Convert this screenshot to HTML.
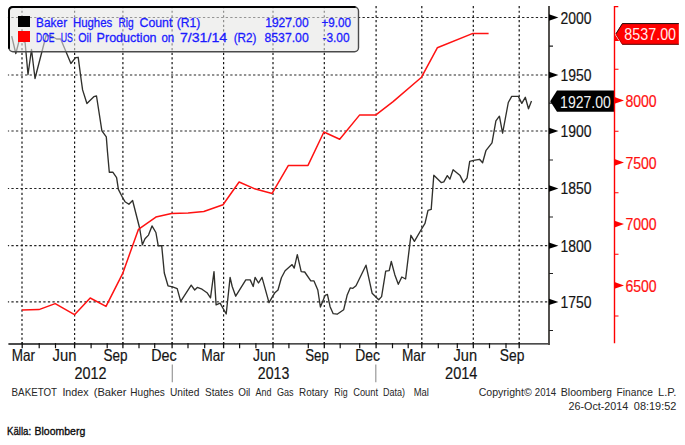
<!DOCTYPE html>
<html>
<head>
<meta charset="utf-8">
<title>Baker Hughes Rig Count vs DOE US Oil Production</title>
<style>
html,body{margin:0;padding:0;background:#fff;}
body{width:685px;height:445px;overflow:hidden;font-family:"Liberation Sans",sans-serif;}
svg{display:block;}
text{font-family:"Liberation Sans",sans-serif;}
.ax{font-size:17px;fill:#151515;stroke:#151515;stroke-width:0.2;}
.axr{font-size:16.5px;fill:#ff1010;stroke:#ff1010;stroke-width:0.2;}
.cap{font-size:11px;fill:#262626;}
.lg{font-size:13.5px;fill:#1a1aff;stroke:#1a1aff;stroke-width:0.3;}
.grid .h{stroke:#262626;stroke-width:1.2;stroke-dasharray:2.3 2.26;}
.grid .v{stroke:#161616;stroke-width:1.2;stroke-dasharray:2.2 2.47;}
</style>
</head>
<body>
<svg width="685" height="445" viewBox="0 0 685 445">
<rect width="685" height="445" fill="#fff"/>

<!-- grid -->
<g class="grid">
<line class="h" x1="547.2" y1="17.5" x2="7.9" y2="17.5"/>
<line class="h" x1="547.2" y1="75.0" x2="7.9" y2="75.0"/>
<line class="h" x1="547.2" y1="131.0" x2="7.9" y2="131.0"/>
<line class="h" x1="547.2" y1="188.5" x2="7.9" y2="188.5"/>
<line class="h" x1="547.2" y1="245.65" x2="7.9" y2="245.65"/>
<line class="h" x1="547.2" y1="301.9" x2="7.9" y2="301.9"/>
<line class="v" x1="22.0" y1="6" x2="22.0" y2="344"/>
<line class="v" x1="74.6" y1="6" x2="74.6" y2="344"/>
<line class="v" x1="122.9" y1="6" x2="122.9" y2="344"/>
<line class="v" x1="172.1" y1="6" x2="172.1" y2="344"/>
<line class="v" x1="223.6" y1="6" x2="223.6" y2="344"/>
<line class="v" x1="273" y1="6" x2="273" y2="344"/>
<line class="v" x1="324.3" y1="6" x2="324.3" y2="344"/>
<line class="v" x1="376.1" y1="6" x2="376.1" y2="344"/>
<line class="v" x1="421.8" y1="6" x2="421.8" y2="344"/>
<line class="v" x1="473.3" y1="6" x2="473.3" y2="344"/>
<line class="v" x1="519.2" y1="6" x2="519.2" y2="344"/>
</g>

<!-- black series -->
<polyline id="blk" fill="none" stroke="#30302c" stroke-width="1.35" stroke-linejoin="round" points="
11.7,36.1 15.8,53.5 19.3,40.2 22,41 25.1,42.5 28,74.5 31.5,49.5 35,78.5 46.1,35.5 51.4,36 56.6,39 60.7,39 70.9,63.5 75.6,57.6 78.2,57.3 81.2,80 82.6,89.9
86.9,103.5 93.8,96.7 96.5,96 101.9,130.8 106.3,136.9 107.5,152 109.3,172.2 112.8,172.2 116.6,177.7 118.4,189.4 122.4,197.3 125,201.7 128.9,204.3 132.6,200.5
139.6,228 142.4,244.8 145,238.7 148.5,235.1 152,225.9 155.9,232.5 158.2,245.7 161.7,245.7 164.3,273 168,285.8 172.6,286.9 177.2,288.6 180.7,301.4
191.2,285.1 194.7,290 197.3,287.4 202,289.2 207,292.7 210.5,297.9 214,271.6 216.1,304.9 220.1,303.2 226.2,314 230.1,277.4 232.2,286.5 235.7,296.2
245.8,279.9 250.2,279.9 253.2,286.5 255.1,277.4 258.5,283 262,277.4 269,302.6 274.9,292.7 278,290 281.4,277.8 285.1,270.8 292.1,264.6 294.2,268.1
297.3,254.7 301.2,271.7 304.7,272 310.8,280.9 314,280.9 317.8,290 320.4,307 325.2,295.3 327.4,294.4 330.1,306.7 333.2,313.7 337.1,314.2 343.7,309.7
347.1,295.3 350.2,287.9 352.9,288.3 356,285.7 366,265.2 372.1,293.2 378.7,299.7 381.6,296.6 385.7,271.2 389.2,270.6 391.3,261.5 394.8,274.7
398.3,284.3 401.8,277 405.6,279 410.9,235.3 414.4,241.4 421,230 425,223.4 428,210.3 431.2,209.4 433.8,175.3 441.2,182.6 443.8,181.9 447.3,175.6
449.9,179.1 453.1,169.7 460.1,175.6 463.6,182.6 467.1,177.9 469.7,161.3 473.6,160.4 479.5,159.3 482.6,162.8 485.9,150.7 492,142.8 495.9,120.9
499.4,116.2 502.6,133.2 508.3,102.5 511.7,96.4 518.3,96.4 521.8,103.4 525.3,97.3 528.5,108.7 531.5,101.1"/>

<!-- red series -->
<polyline id="red" fill="none" stroke="#ff1212" stroke-width="1.5" stroke-linejoin="round" points="
21.9,309.9 38.9,309.6 55.2,303.6 74.5,314.7 90.2,298 106,306.4 122.6,273.7 138.4,229.4 155.9,217.1 171.5,213.4 188.1,213 203.8,211.5 223,204.8
239.1,182 255.4,189.1 272.1,193.4 288.4,165.4 308,165.4 323.9,132 339.7,139.3 359.5,115.1 375.6,115.1 393.1,101.6 421.5,77.2 437.3,47.8 472.9,33.4 488.6,33.4"/>

<!-- legend -->
<g id="legend">
<rect x="9" y="7" width="349.5" height="44.7" rx="4" ry="4" fill="#e6e5e4" fill-opacity="0.58" stroke="#4a4a4a" stroke-width="1.4"/>
<path d="M9,48.8 V11 Q9,7 13,7 H355.5" fill="none" stroke="#000" stroke-width="2"/>
<rect x="18" y="16" width="12" height="11" fill="#000"/>
<rect x="18" y="31" width="12" height="11" fill="#ff0000"/>
<text class="lg" x="36.1" y="27" textLength="31.0" lengthAdjust="spacingAndGlyphs">Baker</text>
<text class="lg" x="72.9" y="27" textLength="39.4" lengthAdjust="spacingAndGlyphs">Hughes</text>
<text class="lg" x="118.5" y="27" textLength="15.2" lengthAdjust="spacingAndGlyphs">Rig</text>
<text class="lg" x="139.5" y="27" textLength="32.9" lengthAdjust="spacingAndGlyphs">Count</text>
<text class="lg" x="176.8" y="27" textLength="23.6" lengthAdjust="spacingAndGlyphs">(R1)</text>
<text class="lg" x="265.2" y="27" textLength="43.5" lengthAdjust="spacingAndGlyphs">1927.00</text>
<text class="lg" x="321.4" y="27" textLength="29.6" lengthAdjust="spacingAndGlyphs">+9.00</text>
<text class="lg" x="36.1" y="42" textLength="18.4" lengthAdjust="spacingAndGlyphs">DOE</text>
<text class="lg" x="60.7" y="42" textLength="12.2" lengthAdjust="spacingAndGlyphs">US</text>
<text class="lg" x="78.2" y="42" textLength="13.1" lengthAdjust="spacingAndGlyphs">Oil</text>
<text class="lg" x="96.6" y="42" textLength="60.0" lengthAdjust="spacingAndGlyphs">Production</text>
<text class="lg" x="161.4" y="42" textLength="12.8" lengthAdjust="spacingAndGlyphs">on</text>
<text class="lg" x="179.9" y="42" textLength="47.3" lengthAdjust="spacingAndGlyphs">7/31/14</text>
<text class="lg" x="233.7" y="42" textLength="22.8" lengthAdjust="spacingAndGlyphs">(R2)</text>
<text class="lg" x="264.5" y="42" textLength="44.2" lengthAdjust="spacingAndGlyphs">8537.00</text>
<text class="lg" x="322.5" y="42" textLength="27.1" lengthAdjust="spacingAndGlyphs">-3.00</text>
</g>

<!-- x axis -->
<g stroke="#111" stroke-width="1.3" fill="none">
<line x1="8.4" y1="344" x2="549.6" y2="343.8"/>
<path d="M22.2,342 v6.2 M74.6,342 v6.2 M122.9,342 v6.2 M172.1,342 v6.2 M223.6,342 v6.2 M273,342 v6.2 M324.3,342 v6.2 M376.1,342 v6.2 M421.8,342 v6.2 M473.3,342 v6.2 M519.2,342 v6.2"/>
<path stroke-width="1.2" d="M39.2,343 v5.2 M55.5,343 v5.2 M91.1,343 v5.2 M107.2,343 v5.2 M139,343 v5.2 M154.7,343 v5.2 M188,343 v5.2 M204.7,343 v5.2 M239.6,343 v5.2 M255.9,343 v5.2 M288.9,343 v5.2 M308.3,343 v5.2 M340.2,343 v5.2 M359.7,343 v5.2 M392.5,343 v5.2 M408.2,343 v5.2 M438.3,343 v5.2 M457.3,343 v5.2 M489.5,343 v5.2 M506,343 v5.2"/>
</g>

<!-- right black axis -->
<g>
<line x1="549" y1="6" x2="549" y2="344.9" stroke="#4a4845" stroke-width="1.9"/>
<g fill="#000">
<path d="M549,14.30 L558.4,17.50 L549,20.70 Z"/>
<path d="M549,71.80 L558.4,75.00 L549,78.20 Z"/>
<path d="M549,127.80 L558.4,131.00 L549,134.20 Z"/>
<path d="M549,185.30 L558.4,188.50 L549,191.70 Z"/>
<path d="M549,242.45 L558.4,245.65 L549,248.85 Z"/>
<path d="M549,298.70 L558.4,301.90 L549,305.10 Z"/>
</g>
<path d="M549,46.2 h4 M549,103.2 h4 M549,160 h4 M549,217 h4 M549,273.5 h4 M549,330.5 h4" stroke="#222" stroke-width="1.2"/>
<text class="ax" x="560.5" y="23.5" textLength="31" lengthAdjust="spacingAndGlyphs">2000</text>
<text class="ax" x="560.5" y="80.7" textLength="31" lengthAdjust="spacingAndGlyphs">1950</text>
<text class="ax" x="560.5" y="137.3" textLength="31" lengthAdjust="spacingAndGlyphs">1900</text>
<text class="ax" x="560.5" y="194.3" textLength="31" lengthAdjust="spacingAndGlyphs">1850</text>
<text class="ax" x="560.5" y="251.7" textLength="31" lengthAdjust="spacingAndGlyphs">1800</text>
<text class="ax" x="560.5" y="307.8" textLength="31" lengthAdjust="spacingAndGlyphs">1750</text>
</g>

<!-- black flag -->
<path d="M550.2,101.2 L557,90.6 H614 V111.8 H557 Z" fill="#000"/>
<text x="560.1" y="108" font-size="16.5" fill="#f2f2f2" textLength="50.8" lengthAdjust="spacingAndGlyphs">1927.00</text>

<!-- right red axis -->
<g>
<path d="M618.3,6.6 H614.5 V343.2" stroke="#ff0000" stroke-width="1.4" fill="none"/>
<g fill="#ff0000">
<path d="M614.5,97.1 L624,100.4 L614.5,103.7 Z"/>
<path d="M614.5,159.1 L624,162.4 L614.5,165.7 Z"/>
<path d="M614.5,220.8 L624,224.1 L614.5,227.4 Z"/>
<path d="M614.5,282.1 L624,285.4 L614.5,288.7 Z"/>
</g>
<path d="M614.5,69.3 h4 M614.5,131.2 h4 M614.5,192.8 h4 M614.5,254.3 h4 M614.5,316 h4" stroke="#ff0000" stroke-width="1.1"/>
<text class="axr" x="625.4" y="106.8" textLength="31.3" lengthAdjust="spacingAndGlyphs">8000</text>
<text class="axr" x="625.4" y="168.5" textLength="31.3" lengthAdjust="spacingAndGlyphs">7500</text>
<text class="axr" x="625.4" y="230.4" textLength="31.3" lengthAdjust="spacingAndGlyphs">7000</text>
<text class="axr" x="625.4" y="291.6" textLength="31.3" lengthAdjust="spacingAndGlyphs">6500</text>
</g>

<!-- red flag -->
<path d="M614.6,34.2 L619.2,40.9 L614.6,40.9 Z" fill="#ff0000"/>
<path d="M615.6,33.9 L622.2,23.3 H678.8 V44.5 H622.2 Z" fill="#ff0000"/>
<path d="M615.9,33.9 L622.4,23.6 H678.8" stroke="#1c1010" stroke-width="1" fill="none"/>
<path d="M622.2,44.3 H678.8" stroke="#5a0808" stroke-width="1" fill="none"/>
<path d="M616.2,34.6 L622.2,44.1" stroke="#a00000" stroke-width="0.8" fill="none"/>
<text x="624.3" y="40.1" font-size="16.3" fill="#ffecec" textLength="51.8" lengthAdjust="spacingAndGlyphs">8537.00</text>

<!-- x labels -->
<g class="ax" style="font-size:16.5px">
<text x="11.7" y="361.2" textLength="23.3" lengthAdjust="spacingAndGlyphs">Mar</text>
<text x="52.6" y="361.2" textLength="23.9" lengthAdjust="spacingAndGlyphs">Jun</text>
<text x="103.6" y="361.2" textLength="24" lengthAdjust="spacingAndGlyphs">Sep</text>
<text x="151.2" y="361.2" textLength="25.4" lengthAdjust="spacingAndGlyphs">Dec</text>
<text x="201.6" y="361.2" textLength="23.2" lengthAdjust="spacingAndGlyphs">Mar</text>
<text x="252.9" y="361.2" textLength="22.7" lengthAdjust="spacingAndGlyphs">Jun</text>
<text x="305.2" y="361.2" textLength="23.6" lengthAdjust="spacingAndGlyphs">Sep</text>
<text x="355.3" y="361.2" textLength="24.7" lengthAdjust="spacingAndGlyphs">Dec</text>
<text x="402" y="361.2" textLength="23.5" lengthAdjust="spacingAndGlyphs">Mar</text>
<text x="453.5" y="361.2" textLength="23.5" lengthAdjust="spacingAndGlyphs">Jun</text>
<text x="499.8" y="361.2" textLength="24.6" lengthAdjust="spacingAndGlyphs">Sep</text>
<text x="74.5" y="379.4" textLength="32.1" lengthAdjust="spacingAndGlyphs">2012</text>
<text x="257.8" y="379.4" textLength="31.5" lengthAdjust="spacingAndGlyphs">2013</text>
<text x="445.1" y="379.4" textLength="32.3" lengthAdjust="spacingAndGlyphs">2014</text>
</g>
<path d="M172.3,364.6 V382.2 M375.8,364.6 V382.2" stroke="#999" stroke-width="1.2"/>

<!-- captions -->
<text class="cap" x="11.6" y="396.3" textLength="45.5" lengthAdjust="spacingAndGlyphs">BAKETOT</text>
<text class="cap" x="62.4" y="396.3" textLength="26.2" lengthAdjust="spacingAndGlyphs">Index</text>
<text class="cap" x="93.7" y="396.3" textLength="32.8" lengthAdjust="spacingAndGlyphs">(Baker</text>
<text class="cap" x="130.3" y="396.3" textLength="34.6" lengthAdjust="spacingAndGlyphs">Hughes</text>
<text class="cap" x="169.9" y="396.3" textLength="29.4" lengthAdjust="spacingAndGlyphs">United</text>
<text class="cap" x="205.0" y="396.3" textLength="28.4" lengthAdjust="spacingAndGlyphs">States</text>
<text class="cap" x="238.2" y="396.3" textLength="12.1" lengthAdjust="spacingAndGlyphs">Oil</text>
<text class="cap" x="255.5" y="396.3" textLength="15.9" lengthAdjust="spacingAndGlyphs">And</text>
<text class="cap" x="276.9" y="396.3" textLength="16.6" lengthAdjust="spacingAndGlyphs">Gas</text>
<text class="cap" x="299.1" y="396.3" textLength="29.1" lengthAdjust="spacingAndGlyphs">Rotary</text>
<text class="cap" x="334.3" y="396.3" textLength="13.3" lengthAdjust="spacingAndGlyphs">Rig</text>
<text class="cap" x="353.2" y="396.3" textLength="24.9" lengthAdjust="spacingAndGlyphs">Count</text>
<text class="cap" x="383.1" y="396.3" textLength="22.0" lengthAdjust="spacingAndGlyphs">Data)</text>
<text class="cap" x="413.7" y="396.3" textLength="15.2" lengthAdjust="spacingAndGlyphs">Mal</text>
<text class="cap" x="478.7" y="396.3" textLength="53.0" lengthAdjust="spacingAndGlyphs">Copyright©</text>
<text class="cap" x="534.8" y="396.3" textLength="21.4" lengthAdjust="spacingAndGlyphs">2014</text>
<text class="cap" x="560.8" y="396.3" textLength="51.2" lengthAdjust="spacingAndGlyphs">Bloomberg</text>
<text class="cap" x="616.6" y="396.3" textLength="36.2" lengthAdjust="spacingAndGlyphs">Finance</text>
<text class="cap" x="658.0" y="396.3" textLength="18.4" lengthAdjust="spacingAndGlyphs">L.P.</text>
<text class="cap" x="568.5" y="410.4" textLength="59.8" lengthAdjust="spacingAndGlyphs">26-Oct-2014</text>
<text class="cap" x="633.8" y="410.4" textLength="42.6" lengthAdjust="spacingAndGlyphs">08:19:52</text>
<g font-size="11.7" fill="#0a0a0a" stroke="#0a0a0a" stroke-width="0.35"><text x="7" y="434.5" textLength="24.2" lengthAdjust="spacingAndGlyphs">Källa:</text><text x="34.5" y="434.5" textLength="50.8" lengthAdjust="spacingAndGlyphs">Bloomberg</text></g>
</svg>
</body>
</html>
